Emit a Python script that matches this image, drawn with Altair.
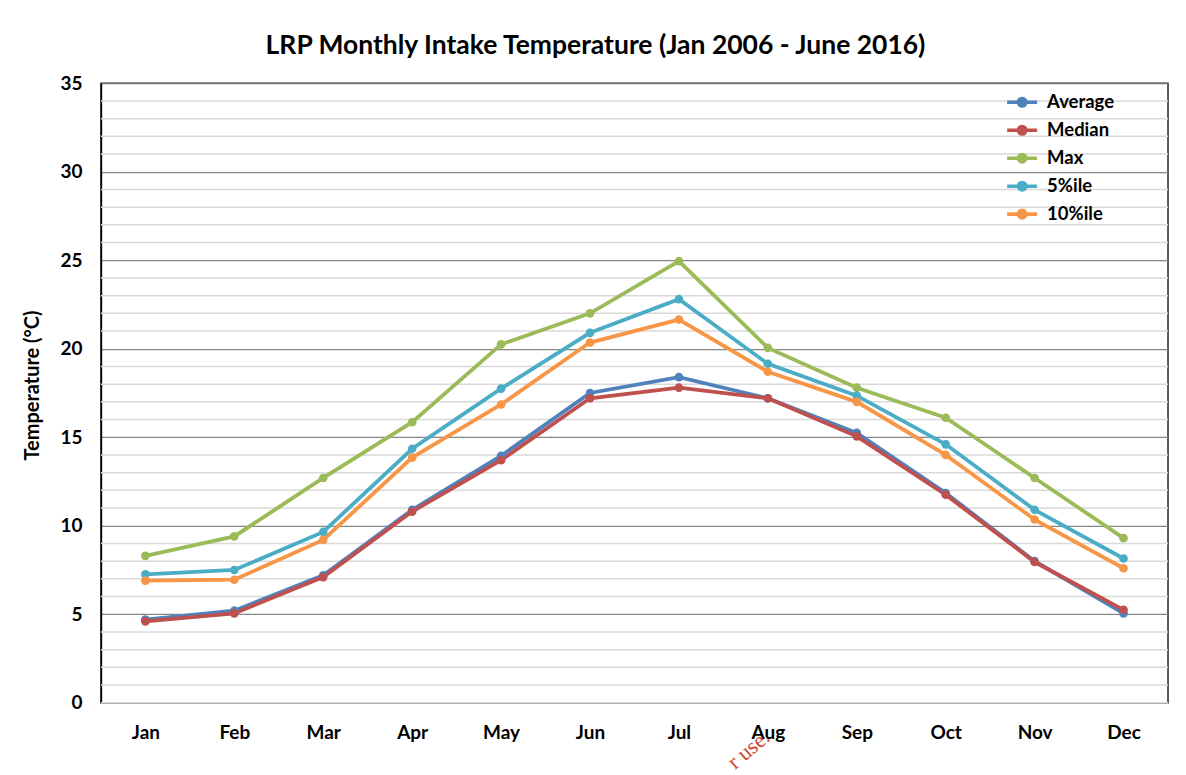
import altair as alt
import pandas as pd

months = ["Jan", "Feb", "Mar", "Apr", "May", "Jun", "Jul", "Aug", "Sep", "Oct", "Nov", "Dec"]
series_names = ["Average", "Median", "Max", "5%ile", "10%ile"]
average = [4.7, 5.2, 7.2, 10.9, 13.95, 17.5, 18.4, 17.2, 15.25, 11.85, 8.0, 5.05]
median = [4.6, 5.05, 7.1, 10.8, 13.7, 17.2, 17.8, 17.2, 15.05, 11.75, 7.95, 5.25]
maximum = [8.3, 9.4, 12.7, 15.85, 20.25, 22.0, 24.95, 20.05, 17.8, 16.1, 12.7, 9.3]
pct5 = [7.25, 7.5, 9.65, 14.35, 17.75, 20.9, 22.8, 19.15, 17.35, 14.6, 10.9, 8.15]
pct10 = [6.9, 6.95, 9.2, 13.85, 16.85, 20.35, 21.65, 18.7, 17.0, 14.0, 10.35, 7.6]
colors = ["#4F81BD", "#C0504D", "#9BBB59", "#4BACC6", "#F79646"]
major_ticks = list(range(0, 36, 5))
light_ticks = [v for v in range(0, 35) if v % 5 != 0] + [0]

FONT = "Lato"

rows = []
for name, vals in zip(series_names, [average, median, maximum, pct5, pct10]):
    for m, v in zip(months, vals):
        rows.append({"Month": m, "Series": name, "Temp": v})
df = pd.DataFrame(rows)

yscale = alt.Scale(domain=[0, 35], nice=False, zero=True)
yaxis = alt.Axis(values=major_ticks, grid=True, gridColor="#868686", gridWidth=1.2,
                 domainColor="#000", domainWidth=1.5, ticks=False,
                 labelFont=FONT, labelFontWeight="bold", labelFontSize=19,
                 labelColor="#000", labelPadding=19,
                 title="Temperature (°C)", titleFont=FONT, titleFontSize=20,
                 titleFontWeight="bold", titleColor="#000",
                 titleX=-68, titleY=302, titleAngle=270, titleBaseline="middle",
                 titleAlign="center")

grid_df = pd.DataFrame({"g": light_ticks})
minor = alt.Chart(grid_df).mark_rule(color="#D9D9D9", strokeWidth=1.5).encode(
    y=alt.Y("g:Q", scale=yscale, axis=yaxis, title="Temperature (°C)")
)

lines = alt.Chart(df).mark_line(
    strokeWidth=3.8,
    point=alt.OverlayMarkDef(filled=True, size=75),
).encode(
    x=alt.X("Month:N", sort=months, title=None,
            axis=alt.Axis(labelAngle=0, ticks=False, domain=False, grid=False,
                          labelFont=FONT, labelFontWeight="bold", labelFontSize=19,
                          labelColor="#000", labelPadding=21)),
    y=alt.Y("Temp:Q", scale=yscale, axis=yaxis, title="Temperature (°C)"),
    color=alt.Color("Series:N", sort=series_names,
                    scale=alt.Scale(domain=series_names, range=colors),
                    legend=alt.Legend(title=None, orient="none", legendX=905, legendY=2,
                                      labelFont=FONT, labelFontWeight="bold", labelFontSize=18.5,
                                      labelColor="#000", rowPadding=-3, labelOffset=8,
                                      symbolType="M-1,0L1,0M0.25,0A0.25,0.25,0,1,1,-0.25,0A0.25,0.25,0,1,1,0.25,0Z",
                                      symbolSize=900, symbolStrokeWidth=3.6)),
)

mark_text = alt.Chart(pd.DataFrame({"t": ["r use."]})).mark_text(
    font="Liberation Serif", fontSize=22, color="#D0452F", angle=320, align="left"
).encode(text="t:N", x=alt.value(630), y=alt.value(682))

chart = alt.layer(minor, lines, mark_text).properties(
    width=1068,
    height=620,
    title=alt.TitleParams(
        "LRP Monthly Intake Temperature (Jan 2006 - June 2016)",
        font=FONT, fontSize=26.5, fontWeight="bold", color="#000",
        anchor="middle", dx=-39, offset=15,
    ),
    autosize=alt.AutoSizeParams(type="none"),
    padding={"left": 93, "top": 75, "right": 10, "bottom": 72},
).configure_view(stroke="#262626", strokeWidth=1.5)

chart.save("out.html", embed_options={"renderer": "svg", "actions": False})
